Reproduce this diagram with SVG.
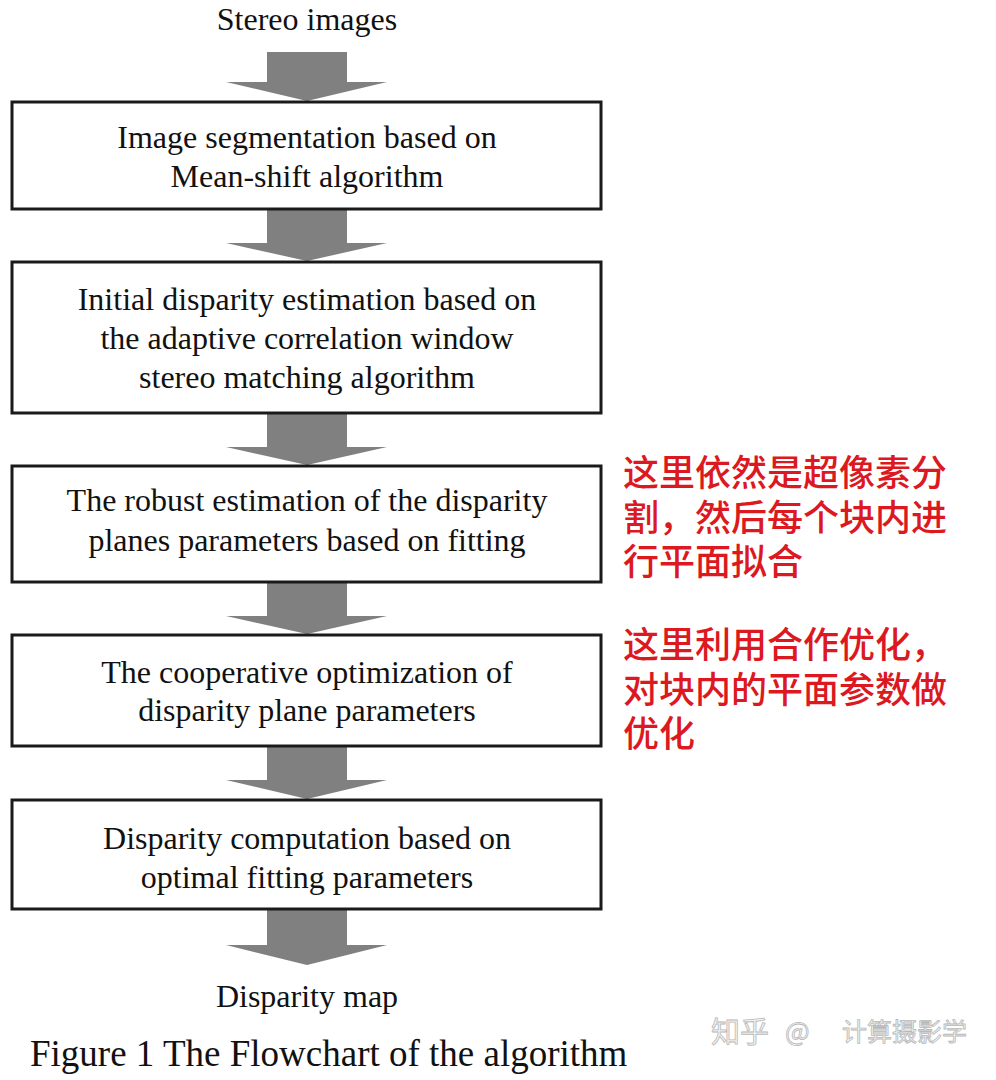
<svg xmlns="http://www.w3.org/2000/svg" width="996" height="1080" viewBox="0 0 996 1080">
<style>
.box{fill:#fff;stroke:#1a1a1a;stroke-width:3}
.t{font-family:"Liberation Serif","Times New Roman",serif;font-size:32px;fill:#111;text-anchor:middle}
.cap{font-family:"Liberation Serif","Times New Roman",serif;font-size:37px;fill:#111}
.arr{fill:#808080}
.red{font-family:"Noto Sans CJK SC","Noto Sans",sans-serif;font-size:36px;fill:#dc1820;font-weight:500}
.wm{font-family:"Noto Sans CJK SC",sans-serif;fill:#f4f4f4;stroke:#b8b8b8;stroke-width:0.8}
</style>
<rect width="996" height="1080" fill="#fff"/>
<g id="connectors">
<path class="arr" d="M267,52 H347 V82 L387,82 L307,101 L226,82 L267,82 Z"/>
<path class="arr" d="M267,210 H347 V243 L387,243 L307,261 L226,243 L267,243 Z"/>
<path class="arr" d="M267,414 H347 V447 L387,447 L307,465 L226,447 L267,447 Z"/>
<path class="arr" d="M267,583 H347 V616 L387,616 L307,634 L226,616 L267,616 Z"/>
<path class="arr" d="M267,747 H347 V780 L387,780 L307,799 L226,780 L267,780 Z"/>
<path class="arr" d="M267,910 H347 V945 L387,945 L307,965 L226,945 L267,945 Z"/>
</g>
<g id="input"><text class="t" x="307" y="30">Stereo images</text></g>
<g id="box1">
<rect class="box" x="12" y="102" width="589" height="107"/>
<text class="t" x="307" y="148">Image segmentation based on</text>
<text class="t" x="307" y="187">Mean-shift algorithm</text>
</g>
<g id="box2">
<rect class="box" x="12" y="262" width="589" height="151"/>
<text class="t" x="307" y="310">Initial disparity estimation based on</text>
<text class="t" x="307" y="349">the adaptive correlation window</text>
<text class="t" x="307" y="388">stereo matching algorithm</text>
</g>
<g id="box3">
<rect class="box" x="12" y="466" width="589" height="116"/>
<text class="t" x="307" y="511">The robust estimation of  the disparity</text>
<text class="t" x="307" y="551">planes parameters based on fitting</text>
</g>
<g id="box4">
<rect class="box" x="12" y="635" width="589" height="111"/>
<text class="t" x="307" y="683">The cooperative optimization of</text>
<text class="t" x="307" y="721">disparity plane parameters</text>
</g>
<g id="box5">
<rect class="box" x="12" y="800" width="589" height="109"/>
<text class="t" x="307" y="849">Disparity computation based on</text>
<text class="t" x="307" y="888">optimal fitting parameters</text>
</g>
<g id="output"><text class="t" x="307" y="1007">Disparity map</text></g>
<g id="caption"><text class="cap" x="30" y="1066">Figure 1 The Flowchart of the algorithm</text></g>
<g id="note1">
<text class="red"><tspan x="623" y="486">这里依然是超像素分</tspan><tspan x="623" y="531">割，然后每个块内进</tspan><tspan x="623" y="575">行平面拟合</tspan></text>
</g>
<g id="note2">
<text class="red"><tspan x="623" y="658">这里利用合作优化，</tspan><tspan x="623" y="703">对块内的平面参数做</tspan><tspan x="623" y="747">优化</tspan></text>
</g>
<g id="watermark">
<text class="wm" x="711" y="1043" font-size="29">知乎</text>
<text class="wm" x="785" y="1041" font-size="26">@</text>
<text class="wm" x="842" y="1041" font-size="25">计算摄影学</text>
</g>
</svg>
